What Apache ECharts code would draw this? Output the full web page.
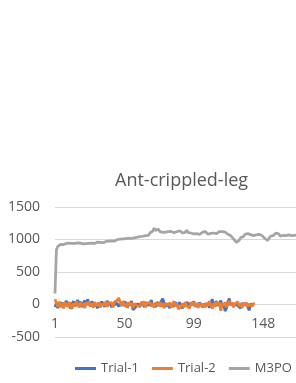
<!DOCTYPE html>
<html><head><meta charset="utf-8">
<script src="https://cdn.jsdelivr.net/npm/echarts@6/dist/echarts.min.js"></script>
<style>html,body{margin:0;padding:0;background:#fff}#c{width:296px;height:383px}</style>
</head><body><div id="c"></div>
<script>
var title = 'Ant-crippled-leg';
var seriesNames = ['Trial-1', 'Trial-2', 'M3PO'];
var categoryCount = 200;
var yTicks = [-500, 0, 500, 1000, 1500];

var trial1 = [-40,25,-55,40,-20,35,-50,15,55,-25,
30,-65,10,50,-35,20,70,-15,45,-40,
25,60,-10,80,15,-30,50,-20,35,10,
-55,30,-15,45,20,-35,15,55,-10,30,
-45,20,-15,35,50,-30,15,-20,40,10,
30,-50,20,-15,55,-80,-110,-40,15,35,
-20,40,10,-35,30,60,-15,20,70,-30,
15,-40,35,10,-20,50,90,25,-35,15,
40,-55,10,20,-30,35,-15,-45,30,10,
-60,20,-20,40,15,-30,35,-10,50,-35,
15,-20,30,55,-40,10,35,-15,20,-50,
30,80,-25,15,50,-20,10,60,-35,20,
-100,-60,40,90,-15,30,-40,15,35,-20,
10,-55,25,-15,20,40,-30,-90,15,-20,
10];

var trial2 = [80,20,-30,35,-45,20,-60,30,10,-35,
40,-15,-70,20,-30,50,10,-45,30,-20,
15,-55,35,-10,45,-30,20,-50,30,15,
-20,35,-45,10,30,-15,50,-35,20,-10,
30,-45,40,15,65,100,30,-15,50,-30,
20,-45,35,-10,30,-55,15,40,-20,10,
-35,30,-15,50,-45,20,-10,35,-30,15,
-50,30,10,-20,40,-35,15,-55,20,35,
-15,30,-45,10,50,-30,20,-70,-100,-35,
15,-45,35,-20,10,-55,30,-15,40,-35,
20,-50,15,35,-30,10,-45,30,-20,50,
-15,-65,20,-35,40,-10,30,-95,15,-20,
35,-45,20,55,-15,30,-35,10,-20,40,
-30,15,-50,20,-15,30,-35,10,-20,-30,
15,5];

var m3po = [170,840,895,915,925,930,922,935,940,932,
945,938,942,950,940,945,948,937,945,940,
932,945,938,950,942,935,945,955,940,950,
960,945,955,965,950,958,970,960,975,968,
980,985,975,992,1000,990,1005,998,1010,1002,
1015,1008,1020,1030,1015,1040,1025,1050,1035,1060,
1045,1070,1050,1080,1060,1090,1065,1100,1075,1130,
1175,1140,1110,1160,1120,1095,1110,1100,1115,1105,
1120,1110,1125,1115,1105,1130,1120,1110,1135,1115,
1100,1090,1110,1145,1105,1080,1100,1090,1085,1100,
1090,1095,1080,1100,1110,1090,1125,1095,1080,1110,
1095,1085,1100,1075,1090,1105,1120,1150,1120,1100,
1115,1095,1080,1070,1060,1040,1010,980,955,940,
985,1030,1060,1045,1080,1050,1090,1065,1075,1100,
1060,1085,1070,1050,1080,1095,1060,1040,1020,995,
985,1010,1050,1075,1060,1080,1100,1070,1085,1050,
1040,1065,1080,1060,1050,1070,1085,1060,1075,1065,
1080,1070,1060,1075,1065];

var categories = [];
for (var i = 1; i <= categoryCount; i++) categories.push(String(i));

var colors = ['#4472C4', '#ED7D31', '#A5A5A5'];
var font = 'Open Sans';
var chart = echarts.init(document.getElementById('c'));
chart.setOption({
  animation: false,
  color: colors,
  textStyle: { fontFamily: font },
  title: {
    text: title, left: 110, top: 167,
    textStyle: { fontFamily: font, fontSize: 18, fontWeight: 'normal', color: '#595959' }
  },
  legend: {
    data: seriesNames, left: 75, top: 362, padding: 0, width: 260, icon: 'rect', itemWidth: 21, itemHeight: 3, itemGap: 13,
    textStyle: { fontFamily: font, fontSize: 13, color: '#595959' }
  },
  grid: { left: 55, top: 207, height: 130, width: 282, containLabel: false, outerBoundsMode: 'none' },
  xAxis: {
    type: 'category', data: categories, boundaryGap: false,
    offset: -32.5,
    axisLine: { onZero: false, lineStyle: { color: '#D9D9D9' } },
    axisTick: { show: false },
    axisLabel: { interval: 48, margin: 13, fontFamily: font, fontSize: 14, color: '#595959' },
    splitLine: { show: false }
  },
  yAxis: {
    type: 'value', min: yTicks[0], max: yTicks[yTicks.length - 1], interval: 500,
    axisLine: { show: false }, axisTick: { show: false },
    axisLabel: { margin: 15, fontFamily: font, fontSize: 14, color: '#595959', formatter: function (v) { return String(v); } },
    splitLine: { lineStyle: { color: '#D9D9D9', width: 1 } }
  },
  series: [
    { name: seriesNames[0], type: 'line', data: trial1, symbol: 'none', lineStyle: { width: 2.75, color: colors[0] } },
    { name: seriesNames[1], type: 'line', data: trial2, symbol: 'none', lineStyle: { width: 2.75, color: colors[1] } },
    { name: seriesNames[2], type: 'line', data: m3po, symbol: 'none', lineStyle: { width: 2.75, color: colors[2] } }
  ]
});
</script></body></html>
